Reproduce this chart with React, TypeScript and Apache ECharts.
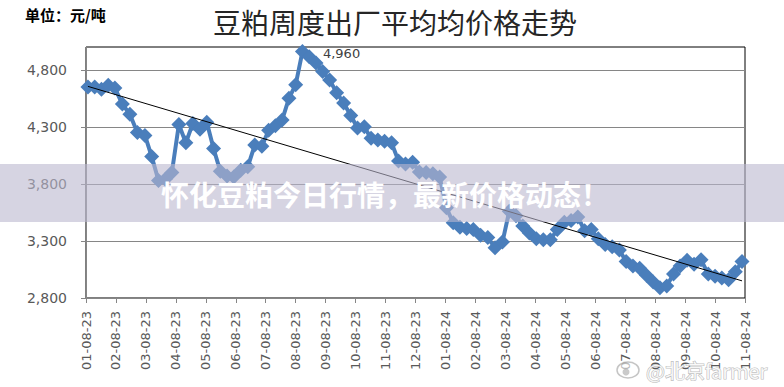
import React, { useEffect, useRef } from 'react';
import * as echarts from 'echarts';

const tickLabels = [
  '01-08-23', '02-08-23', '03-08-23', '04-08-23', '05-08-23', '06-08-23',
  '07-08-23', '08-08-23', '09-08-23', '10-08-23', '11-08-23', '12-08-23',
  '01-08-24', '02-08-24', '03-08-24', '04-08-24', '05-08-24', '06-08-24',
  '07-08-24', '08-08-24', '09-08-24', '10-08-24', '11-08-24',
];

const firstWeek = '2023-01-10';

const prices = [
  4650, 4650, 4630, 4665, 4640, 4500, 4410, 4250, 4225, 4040,
  3830, 3840, 3900, 4320, 4160, 4330, 4280, 4340, 4110, 3910,
  3870, 3860, 3920, 3950, 4140, 4130, 4270, 4310, 4360, 4550,
  4670, 4960, 4915, 4860, 4785, 4710, 4600, 4510, 4400, 4290,
  4300, 4200, 4185, 4175, 4160, 4000, 3975, 3990, 3905, 3900,
  3890, 3860, 3590, 3460, 3420, 3410, 3400, 3350, 3330, 3240,
  3290, 3560, 3520, 3430, 3370, 3320, 3310, 3310, 3400, 3465,
  3480, 3510, 3390, 3400, 3320, 3270, 3250, 3220, 3120, 3080,
  3060, 3000, 2940, 2890, 2905, 3010, 3080, 3130, 3095, 3135,
  3010, 2990, 2975, 2960, 3030, 3120,
];

const peakIndex = 31;
const peakLabel = '4,960';
const yTickValues = [2800, 3300, 3800, 4300, 4800];

const titleText = '豆粕周度出厂平均均价格走势';
const unitText = '单位：元/吨';
const bannerText = '怀化豆粕今日行情，最新价格动态！';
const watermarkText = '@北京farmer';

function monthPos(d: Date): number {
  const y = d.getUTCFullYear();
  const m = d.getUTCMonth();
  const day = d.getUTCDate();
  const dim = new Date(Date.UTC(y, m + 1, 0)).getUTCDate();
  return (y - 2023) * 12 + m + (day - 8) / dim;
}

export default function App() {
  const ref = useRef<HTMLDivElement>(null);

  useEffect(() => {
    if (!ref.current) return;
    const chart = echarts.init(ref.current, undefined, { renderer: 'svg' });
    const start = Date.parse(firstWeek + 'T00:00:00Z');
    const pts = prices.map((v, i) => [monthPos(new Date(start + i * 7 * 86400000)), v]);

    // least squares trend line
    const n = pts.length;
    let sx = 0, sy = 0, sxx = 0, sxy = 0;
    pts.forEach(([x, y]) => { sx += x; sy += y; sxx += x * x; sxy += x * y; });
    const b = (n * sxy - sx * sy) / (n * sxx - sx * sx);
    const a = (sy - b * sx) / n;
    const x0 = pts[0][0];
    const x1 = pts[n - 1][0];

    const seriesData = pts.map((p, i) =>
      i === peakIndex
        ? {
            value: p,
            label: {
              show: true,
              formatter: peakLabel,
              position: 'right',
              distance: 13,
              offset: [0, 2],
              color: '#404040',
              fontSize: 13,
              fontFamily: 'DejaVu Sans',
            },
          }
        : { value: p }
    );

    chart.setOption({
      animation: false,
      backgroundColor: '#fff',
      grid: {
        left: 86, right: 39, top: 47, bottom: 89,
        show: true, borderColor: '#000', borderWidth: 1, backgroundColor: 'transparent',
      },
      xAxis: {
        type: 'value', min: 0, max: 22, interval: 1,
        axisLine: { show: true, lineStyle: { color: '#868686', width: 1 } },
        axisTick: { show: true, length: 5, lineStyle: { color: '#868686' } },
        axisLabel: {
          rotate: 90, margin: 13, color: '#595959', fontSize: 13, fontFamily: 'DejaVu Sans',
          formatter: (v: number) => tickLabels[Math.round(v)] ?? '',
        },
        splitLine: { show: false },
      },
      yAxis: {
        type: 'value', min: 2800, max: 5000, interval: 500,
        axisLine: { show: true, lineStyle: { color: '#868686', width: 1 } },
        axisTick: { show: true, length: 5, lineStyle: { color: '#868686' }, customValues: yTickValues },
        axisLabel: {
          margin: 19, color: '#595959', fontSize: 14, fontFamily: 'DejaVu Sans',
          customValues: yTickValues,
          formatter: (v: number) => v.toLocaleString('en-US'),
        },
        splitLine: { show: true, lineStyle: { color: '#868686', width: 1 } },
      },
      series: [
        {
          type: 'line',
          data: seriesData,
          symbol: 'diamond',
          symbolSize: 15,
          lineStyle: { width: 4, color: '#4A7EBB' },
          itemStyle: { color: '#4A7EBB' },
          z: 2,
        },
        {
          type: 'line',
          data: [[x0, a + b * x0], [x1, a + b * x1]],
          symbol: 'none',
          lineStyle: { width: 1, color: '#000' },
          silent: true,
          z: 3,
        },
      ],
      graphic: [
        {
          type: 'text', left: 25, top: 7, z: 10,
          style: { text: unitText, fill: '#000', font: 'bold 15px "Noto Sans CJK SC"' },
        },
        {
          type: 'text', x: 395, y: 22, z: 10,
          style: {
            text: titleText, fill: '#262626', font: '28px "Noto Sans CJK SC"',
            textAlign: 'center', textVerticalAlign: 'middle',
          },
        },
        {
          type: 'rect', z: 100,
          shape: { x: 0, y: 164, width: 784, height: 58 },
          style: { fill: 'rgba(186,183,207,0.6)' },
        },
        {
          type: 'text', x: 161, y: 194, z: 101,
          style: {
            text: bannerText, fill: '#fff', font: 'bold 28px "Noto Sans CJK SC"',
            textVerticalAlign: 'middle',
          },
        },
        {
          type: 'ellipse', z: 101,
          shape: { cx: 628, cy: 370, rx: 11, ry: 8 },
          style: { fill: 'rgba(255,255,255,0.6)', stroke: 'rgba(140,140,140,0.5)', lineWidth: 1.5 },
        },
        {
          type: 'circle', z: 102,
          shape: { cx: 626, cy: 372, r: 3.5 },
          style: { fill: 'rgba(150,150,150,0.5)' },
        },
        {
          type: 'text', x: 646, y: 370, z: 101,
          style: {
            text: watermarkText, fill: 'rgba(255,255,255,0.85)', font: '20px "Noto Sans CJK SC"',
            textVerticalAlign: 'middle', stroke: 'rgba(130,130,130,0.55)', lineWidth: 1.2,
          },
        },
      ],
    });
    return () => chart.dispose();
  }, []);

  return (
    <div
      ref={ref}
      style={{ position: 'fixed', left: 0, top: 0, width: 784, height: 387 }}
    />
  );
}
